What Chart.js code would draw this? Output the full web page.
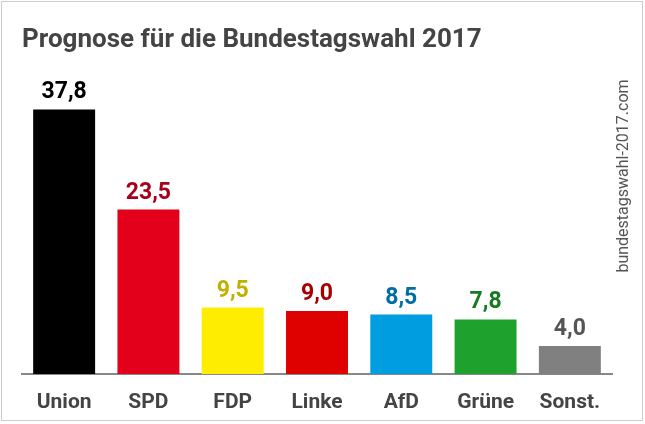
<!DOCTYPE html>
<html>
<head>
<meta charset="utf-8">
<script src="https://cdn.jsdelivr.net/npm/chart.js@4"></script>
<style>
  html, body { margin: 0; padding: 0; background: #fff; }
  #wrap { width: 645px; height: 424px; position: relative; }
</style>
</head>
<body>
<div id="wrap"><canvas id="prognoseChart"></canvas></div>
<script>
// Prognose Bundestagswahl 2017
const parties = ['Union', 'SPD', 'FDP', 'Linke', 'AfD', 'Grüne', 'Sonst.'];
const values = [37.8, 23.5, 9.5, 9.0, 8.5, 7.8, 4.0];
const barColors = ['#000000', '#e2001a', '#ffed00', '#df0000', '#009ee0', '#1fa12d', '#808080'];
const labelColors = ['#000000', '#a8001a', '#c2b000', '#a80000', '#006fa0', '#177a22', '#555555'];

const titleText = 'Prognose für die Bundestagswahl 2017';
const sourceText = 'bundestagswahl-2017.com';

const decor = {
    id: 'decor',
    beforeDraw(chart) {
        const c = chart.ctx;
        c.save();
        c.fillStyle = '#ffffff';
        c.fillRect(0, 0, chart.width, chart.height);
        c.strokeStyle = '#cccccc';
        c.lineWidth = 1;
        c.strokeRect(1.5, 1.5, 641, 419);
        // title
        c.fillStyle = '#444444';
        c.font = 'bold 26px Roboto';
        c.textAlign = 'left';
        c.textBaseline = 'alphabetic';
        c.fillText(titleText, 22, 47);
        // source, rotated
        c.translate(624, 176);
        c.rotate(-Math.PI / 2);
        c.fillStyle = '#555555';
        c.font = '16px Roboto';
        c.textAlign = 'center';
        c.textBaseline = 'middle';
        c.fillText(sourceText, 0, 0);
        c.restore();
    },
    afterDatasetsDraw(chart) {
        const c = chart.ctx;
        const meta = chart.getDatasetMeta(0);
        c.save();
        c.font = 'bold 23px Roboto';
        c.textAlign = 'center';
        c.textBaseline = 'alphabetic';
        meta.data.forEach(function (bar, i) {
            c.fillStyle = labelColors[i];
            c.fillText(values[i].toFixed(1).replace('.', ','), bar.x, bar.y - 11);
        });
        c.restore();
    }
};

new Chart(document.getElementById('prognoseChart'), {
    type: 'bar',
    data: {
        labels: parties,
        datasets: [{
            data: values,
            backgroundColor: barColors,
            borderWidth: 0,
            categoryPercentage: 1,
            barPercentage: 0.735
        }]
    },
    options: {
        responsive: true,
        maintainAspectRatio: false,
        animation: false,
        layout: {
            padding: { top: 94, left: 22, right: 33, bottom: 0 }
        },
        plugins: {
            legend: { display: false },
            tooltip: { enabled: false }
        },
        scales: {
            y: {
                display: false,
                min: 0,
                max: 40
            },
            x: {
                afterFit: function (scale) { scale.height = 50; },
                grid: { display: false },
                border: { display: true, color: '#888888', width: 2 },
                ticks: {
                    color: '#444444',
                    font: { family: 'Roboto', size: 21, weight: 'bold' },
                    padding: 8
                }
            }
        }
    },
    plugins: [decor]
});
</script>
</body>
</html>
